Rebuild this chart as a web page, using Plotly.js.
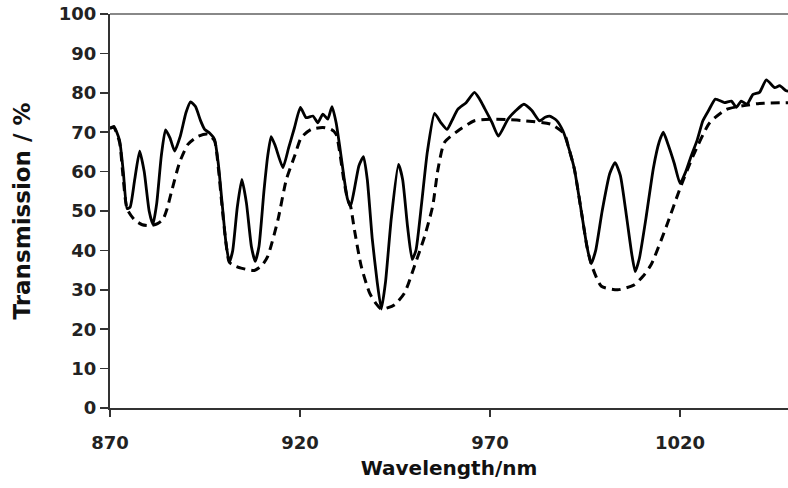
<!DOCTYPE html>
<html>
<head>
<meta charset="utf-8">
<script src="https://cdn.plot.ly/plotly-3.0.1.min.js"></script>
<style>html,body{margin:0;padding:0;background:#fff;}#chart{width:788px;height:488px;}</style>
</head>
<body>
<div id="chart"></div>
<script>
// Measured spectrum (solid line)
const wlMeasured = [870,871,872.5,873.5,874.5,875.3,876.5,877.8,879,880.3,881.3,882.3,883.5,884.6,885.8,887,888.5,890,891.2,892.5,893.8,894.9,896.2,897.5,898.5,899.5,900.5,901.4,902.3,903.5,904.7,905.9,907.2,908.2,909.2,910.5,911.5,912.4,913.5,915.5,917,918.5,920.1,921.6,923.4,924.7,926,927.3,928.4,929.5,930.5,931.5,932.5,933.3,934.2,935.5,936.7,937.7,939,940.3,941.4,942.5,944,945.9,947,948.3,949.5,950.5,952,953.5,955.4,957,958.7,960,961.5,963.7,965.9,967.2,968.6,970.5,972.2,974.7,976.8,978.9,981,983,984.5,985.7,987.5,989.2,990.7,992.2,994,995.5,996.6,997.8,999.5,1001.5,1002.9,1004.3,1006,1007.3,1008.2,1009.3,1011,1013,1014.5,1015.6,1016.8,1018.5,1020,1021.5,1022.9,1024.5,1026,1027.5,1029.3,1031.7,1033.5,1034.8,1036.1,1037.6,1039.2,1040.9,1042.7,1044.9,1046.2,1047.9,1048.5];
const tMeasured = [71,71.5,68,60,50.6,51,58,65.2,60,50,46.6,52,64,70.6,68.5,65.2,69,75,77.7,76.5,73,70.7,69.8,68.2,62,52,42,37,40,51,58,52,41,37.2,41,55,64,68.9,66.5,61,66,71,76.3,73.7,74.1,72.4,74.6,73.3,76.5,72.4,66,59,53,51.2,55,61.5,63.8,58,43,32,25.1,32,48,61.8,58,46,37.7,40,52,65,74.8,72.5,70.7,73,75.8,77.5,80.1,78.5,76,72.5,69,73.3,75.5,77.1,75.5,72.9,73.8,74.1,73,70.3,66,60.6,50,41,36.6,40,50,59.5,62.3,59,48,39,34.6,38,48,61,67.5,70,67,62,57,60,63.9,68,72.9,75.5,78.4,77.5,77.9,76.3,77.9,77.1,79.6,80.1,83.3,81.3,81.8,80.5,80.4];

// Envelope / fitted curve (dashed line)
const wlEnvelope = [870,871,872.5,873.5,874.5,876.4,878.5,880.8,882.5,883.9,885,886.1,888.3,890.5,893.1,895.7,897.5,898.5,899.5,900.5,901.4,903,904.5,908,910,911.5,914.2,916.4,918.6,920.3,922.9,926,928.2,929.5,930.5,931.5,932.5,933.3,934.3,936.1,938.3,940,941.4,943,944.9,947.5,950.1,952.8,954.9,956.3,958,961.5,965.9,970.3,975,979.1,986.1,989.6,990.7,992.2,994,995.5,996.6,999.3,1003.6,1008,1010.3,1012.4,1016.4,1019.9,1023.4,1027.8,1032.2,1036.5,1040.9,1048.5];
const tEnvelope = [71,71.2,67.5,58,50.5,47.8,46.5,46.3,46.8,47.8,50.5,54.6,62.3,66.9,68.9,69.5,67.8,61,51,42,37,36,35.5,34.9,36.2,38.5,47.8,58,64,68.6,70.7,71.2,70.7,69.5,64.5,58,53,51.2,45.3,36,29.2,26.5,25.1,25.4,26.2,29.2,36,43.6,51.2,60.6,67.4,70.3,72.9,73.3,73.2,72.9,72,69.5,66,60.6,50,41,36.6,30.9,30,31.3,33.5,36.4,46.1,55.5,63.9,72.4,75.8,76.7,77.3,77.5];

const xTicks = [870,920,970,1020];
const yTicks = [0,10,20,30,40,50,60,70,80,90,100];

const fontFam = 'DejaVu Sans, Arial, sans-serif';

const traces = [
  {x: wlEnvelope, y: tEnvelope, mode: 'lines', type: 'scatter',
   line: {color: '#000', width: 3, dash: '9px,6px', shape: 'spline', smoothing: 0.6}},
  {x: wlMeasured, y: tMeasured, mode: 'lines', type: 'scatter',
   line: {color: '#000', width: 2.8, shape: 'spline', smoothing: 0.5}}
];

const layout = {
  width: 788, height: 488,
  margin: {l: 110, r: 0, t: 14, b: 80},
  paper_bgcolor: '#fff', plot_bgcolor: '#fff',
  showlegend: false,
  xaxis: {
    range: [870, 1048.4], tickvals: xTicks, ticktext: xTicks.map(String),
    showgrid: false, zeroline: false, showline: true, linecolor: '#333', linewidth: 2,
    ticks: 'outside', ticklen: 7, tickcolor: '#333', tickwidth: 1.5,
    ticklabelstandoff: 10,
    tickfont: {family: fontFam, size: 18, color: '#222', weight: 'bold'},
    title: {text: 'Wavelength/nm', font: {family: fontFam, size: 20, color: '#111', weight: 'bold'}, standoff: 9}
  },
  yaxis: {
    range: [0, 100], tickvals: yTicks, ticktext: yTicks.map(String),
    showgrid: false, zeroline: false, showline: true, linecolor: '#333', linewidth: 2,
    ticks: 'outside', ticklen: 8, tickcolor: '#333', tickwidth: 1.5,
    tickfont: {family: fontFam, size: 18, color: '#222', weight: 'bold'},
    title: {text: 'Transmission / %', font: {family: fontFam, size: 23, color: '#111', weight: 'bold'}, standoff: 22}
  },
  shapes: [
    {type: 'line', xref: 'paper', yref: 'paper', x0: 0, x1: 1, y0: 1, y1: 1,
     line: {color: '#888', width: 2}}
  ]
};

Plotly.newPlot('chart', traces, layout, {displayModeBar: false, staticPlot: true});
</script>
</body>
</html>
